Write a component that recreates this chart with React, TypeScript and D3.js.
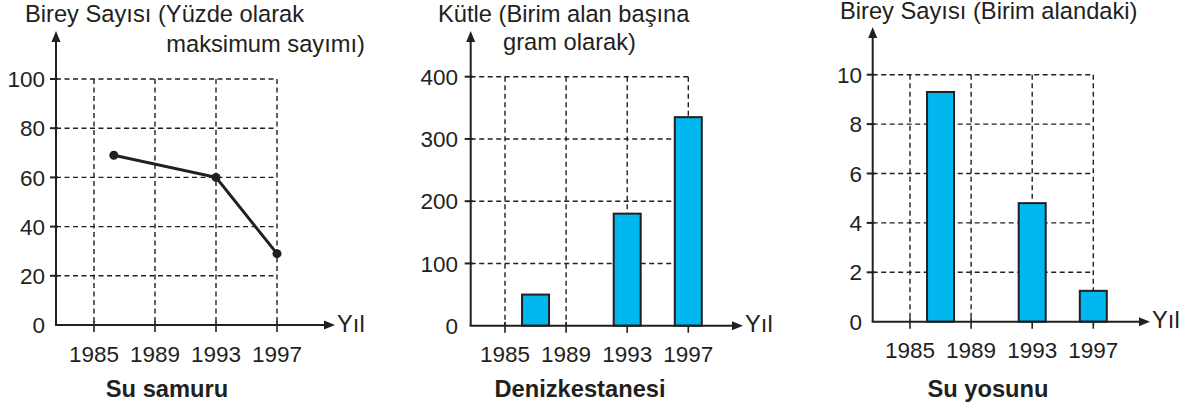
import React, { useEffect, useRef } from 'react';
import * as d3 from 'd3';

// x-axis tick years (shared by all three charts)
const years = [1985, 1989, 1993, 1997];

// Su samuru: line chart
const otterYears = [1986.3, 1993, 1997];
const otterValues = [69, 60, 29];
const otterTicks = [0, 20, 40, 60, 80, 100];

// Denizkestanesi: bars
const urchinYears = [1987, 1993, 1997];
const urchinValues = [50, 180, 335];
const urchinTicks = [0, 100, 200, 300, 400];

// Su yosunu: bars
const kelpYears = [1987, 1993, 1997];
const kelpValues = [9.3, 4.8, 1.25];
const kelpTicks = [0, 2, 4, 6, 8, 10];

const INK = '#231f20';
const BLUE = '#00b7ef';
const FONT = '"Liberation Sans", Arial, sans-serif';
const NUM_SIZE = '22.5px';
const TXT_SIZE = '23.7px';

function drawPanel(svg, o) {
  const g = svg.append('g');

  const x = d3.scaleLinear().domain([1985, 1997]).range([o.x0, o.x1]);
  const y = d3.scaleLinear().domain([0, o.yMax]).range([o.y0, o.yTop]);

  // dashed grid
  o.ticks.filter(t => t > 0).forEach(t => {
    g.append('line')
      .attr('x1', o.axisX).attr('x2', x(1997))
      .attr('y1', y(t)).attr('y2', y(t))
      .style('stroke', INK).style('stroke-width', 1.4)
      .style('stroke-dasharray', '5,3.5');
  });
  years.forEach(yr => {
    g.append('line')
      .attr('x1', x(yr)).attr('x2', x(yr))
      .attr('y1', y(o.yMax)).attr('y2', o.y0)
      .style('stroke', INK).style('stroke-width', 1.4)
      .style('stroke-dasharray', '5,3.5');
  });

  // y ticks + labels
  o.ticks.forEach(t => {
    if (t > 0) {
      g.append('line')
        .attr('x1', o.axisX - 6).attr('x2', o.axisX + 2)
        .attr('y1', y(t)).attr('y2', y(t))
        .style('stroke', INK).style('stroke-width', 2);
    }
    g.append('text')
      .attr('x', o.labelX).attr('y', y(t))
      .attr('dy', '0.36em')
      .attr('text-anchor', 'end')
      .style('font-family', FONT).style('font-size', NUM_SIZE)
      .style('fill', INK)
      .text(t);
  });

  // x ticks + labels
  years.forEach(yr => {
    g.append('line')
      .attr('x1', x(yr)).attr('x2', x(yr))
      .attr('y1', o.y0 - 4).attr('y2', o.y0 + 7)
      .style('stroke', INK).style('stroke-width', 1.6);
    g.append('text')
      .attr('x', x(yr)).attr('y', o.yearY)
      .attr('text-anchor', 'middle')
      .style('font-family', FONT).style('font-size', NUM_SIZE)
      .style('fill', INK)
      .text(yr);
  });

  // data
  if (o.type === 'line') {
    const pts = o.xs.map((d, i) => [x(d), y(o.vals[i])]);
    g.append('path')
      .attr('d', d3.line()(pts))
      .style('fill', 'none').style('stroke', INK).style('stroke-width', 3);
    g.selectAll('circle.pt').data(pts).enter().append('circle')
      .attr('cx', d => d[0]).attr('cy', d => d[1]).attr('r', 4.5)
      .style('fill', INK);
  } else {
    const bw = 27;
    o.xs.forEach((d, i) => {
      g.append('rect')
        .attr('x', x(d) - bw / 2).attr('width', bw)
        .attr('y', y(o.vals[i])).attr('height', o.y0 - y(o.vals[i]))
        .style('fill', BLUE).style('stroke', INK).style('stroke-width', 2);
    });
  }

  // axes with arrows
  g.append('line')
    .attr('x1', o.axisX).attr('x2', o.axisX)
    .attr('y1', o.y0).attr('y2', o.arrowTop + 8)
    .style('stroke', INK).style('stroke-width', 2);
  g.append('path')
    .attr('d', `M${o.axisX},${o.arrowTop} L${o.axisX - 4.5},${o.arrowTop + 11} L${o.axisX + 4.5},${o.arrowTop + 11} Z`)
    .style('fill', INK);
  g.append('line')
    .attr('x1', o.axisX - 1).attr('x2', o.arrowRight - 8)
    .attr('y1', o.y0).attr('y2', o.y0)
    .style('stroke', INK).style('stroke-width', 2);
  g.append('path')
    .attr('d', `M${o.arrowRight},${o.y0} L${o.arrowRight - 11},${o.y0 - 4.5} L${o.arrowRight - 11},${o.y0 + 4.5} Z`)
    .style('fill', INK);
  g.append('text')
    .attr('x', o.arrowRight + 2).attr('y', o.y0 - 2)
    .attr('dy', '0.36em')
    .style('font-family', FONT).style('font-size', TXT_SIZE)
    .style('fill', INK)
    .text('Yıl');

  // axis title
  o.title.forEach(tl => {
    g.append('text')
      .attr('x', tl.x).attr('y', tl.y)
      .attr('text-anchor', tl.anchor)
      .style('font-family', FONT).style('font-size', TXT_SIZE)
      .style('fill', INK)
      .text(tl.text);
  });

  // caption
  g.append('text')
    .attr('x', o.capX).attr('y', 397)
    .attr('text-anchor', 'middle')
    .style('font-family', FONT).style('font-size', TXT_SIZE)
    .style('font-weight', 'bold')
    .style('fill', INK)
    .text(o.caption);
}

export default function App() {
  const ref = useRef(null);

  useEffect(() => {
    const svg = d3.select(ref.current);
    svg.selectAll('*').remove();

    drawPanel(svg, {
      type: 'line', xs: otterYears, vals: otterValues, ticks: otterTicks, yMax: 100,
      axisX: 56, x0: 94, x1: 277, y0: 325, yTop: 79, arrowTop: 31, arrowRight: 335,
      labelX: 45, yearY: 362, capX: 167, caption: 'Su samuru',
      title: [
        { text: 'Birey Sayısı (Yüzde olarak', x: 25, y: 22, anchor: 'start' },
        { text: 'maksimum sayımı)', x: 365, y: 52, anchor: 'end' },
      ],
    });

    drawPanel(svg, {
      type: 'bar', xs: urchinYears, vals: urchinValues, ticks: urchinTicks, yMax: 400,
      axisX: 470.7, x0: 505, x1: 688.3, y0: 325.7, yTop: 76.7, arrowTop: 31, arrowRight: 743,
      labelX: 458, yearY: 362, capX: 580, caption: 'Denizkestanesi',
      title: [
        { text: 'Kütle (Birim alan başına', x: 438, y: 22, anchor: 'start' },
        { text: 'gram olarak)', x: 503, y: 50, anchor: 'start' },
      ],
    });

    drawPanel(svg, {
      type: 'bar', xs: kelpYears, vals: kelpValues, ticks: kelpTicks, yMax: 10,
      axisX: 872.7, x0: 910, x1: 1093.3, y0: 321.7, yTop: 74.7, arrowTop: 27, arrowRight: 1150,
      labelX: 862, yearY: 358, capX: 988, caption: 'Su yosunu',
      title: [
        { text: 'Birey Sayısı (Birim alandaki)', x: 840, y: 19, anchor: 'start' },
      ],
    });
  }, []);

  return (
    <svg
      ref={ref}
      width={1195}
      height={409}
      style={{ position: 'absolute', left: 0, top: 0, background: '#fff' }}
    />
  );
}
